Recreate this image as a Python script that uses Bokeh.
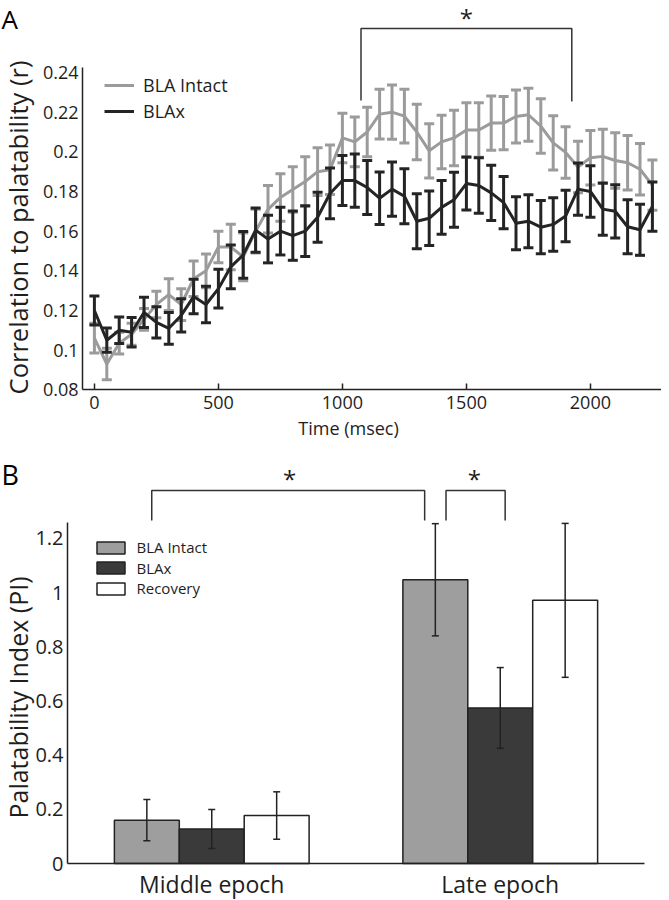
from math import pi
from bokeh.plotting import figure
from bokeh.layouts import column
from bokeh.models import (FixedTicker, Legend, LegendItem, Label, ColumnDataSource, Range1d,
                          LinearAxis)
from bokeh.embed import file_html
from bokeh.resources import INLINE

# ---------------- data: panel A ----------------
time_ms = [0, 50, 100, 150, 200, 250, 300, 350, 400, 450, 500, 550, 600, 650, 700, 750,
           800, 850, 900, 950, 1000, 1050, 1100, 1150, 1200, 1250, 1300, 1350, 1400, 1450,
           1500, 1550, 1600, 1650, 1700, 1750, 1800, 1850, 1900, 1950, 2000, 2050, 2100,
           2150, 2200, 2250]
intact_r = [0.106, 0.093, 0.1035, 0.108, 0.1155, 0.123, 0.128, 0.123, 0.136, 0.140,
            0.152, 0.152, 0.147, 0.160, 0.171, 0.177, 0.181, 0.185, 0.190, 0.191,
            0.207, 0.205, 0.210, 0.219, 0.220, 0.218, 0.210, 0.2005, 0.205, 0.207,
            0.211, 0.211, 0.2145, 0.2145, 0.2178, 0.2187, 0.213, 0.2045, 0.1997, 0.1923,
            0.197, 0.1977, 0.1956, 0.1945, 0.1912, 0.1832]
intact_sem = [0.0075, 0.008, 0.0055, 0.0055, 0.0055, 0.0067, 0.008, 0.008, 0.009, 0.0085,
              0.008, 0.0115, 0.012, 0.011, 0.012, 0.012, 0.0115, 0.0125, 0.012, 0.0125,
              0.0125, 0.0125, 0.0125, 0.0125, 0.0137, 0.0135, 0.014, 0.0137, 0.0135, 0.014,
              0.0137, 0.0137, 0.0137, 0.0134, 0.0134, 0.0134, 0.0137, 0.0137, 0.013, 0.013,
              0.0137, 0.0137, 0.014, 0.0137, 0.013, 0.0127]
blax_r = [0.120, 0.105, 0.110, 0.109, 0.119, 0.114, 0.111, 0.1175, 0.127, 0.123,
          0.131, 0.142, 0.148, 0.1605, 0.156, 0.160, 0.1577, 0.160, 0.167, 0.179,
          0.1855, 0.1855, 0.182, 0.1766, 0.1812, 0.1776, 0.165, 0.1665, 0.172, 0.1758,
          0.184, 0.183, 0.1793, 0.1744, 0.164, 0.165, 0.162, 0.1634, 0.1676, 0.1812,
          0.180, 0.1711, 0.170, 0.1622, 0.1607, 0.1724]
blax_sem = [0.0073, 0.0061, 0.0067, 0.0074, 0.0076, 0.0079, 0.008, 0.0084, 0.0087, 0.0092,
            0.0098, 0.011, 0.0118, 0.0112, 0.012, 0.012, 0.0124, 0.0128, 0.0126, 0.0128,
            0.0126, 0.0134, 0.0136, 0.0132, 0.0137, 0.0139, 0.0139, 0.0137, 0.0136, 0.0139,
            0.0134, 0.014, 0.0139, 0.0132, 0.0134, 0.0134, 0.0134, 0.0135, 0.013, 0.0132,
            0.013, 0.0132, 0.0134, 0.0136, 0.0129, 0.0124]
a_xticks = [0, 500, 1000, 1500, 2000]
a_yticks = [0.08, 0.1, 0.12, 0.14, 0.16, 0.18, 0.2, 0.22, 0.24]
a_ylabels = ["0.08", "0.1", "0.12", "0.14", "0.16", "0.18", "0.2", "0.22", "0.24"]
a_sig_span = (1075, 1925)   # ms, significance bracket

# ---------------- data: panel B ----------------
epochs = ["Middle epoch", "Late epoch"]
groups = ["BLA Intact", "BLAx", "Recovery"]
pi_intact = [0.160, 1.047]
pi_intact_err = [0.076, 0.207]
pi_blax = [0.127, 0.574]
pi_blax_err = [0.072, 0.149]
pi_recovery = [0.177, 0.971]
pi_recovery_err = [0.0875, 0.284]
b_yticks = [0, 0.2, 0.4, 0.6, 0.8, 1.0, 1.2]
b_ylabels = ["0", "0.2", "0.4", "0.6", "0.8", "1", "1.2"]

FONT = "Open Sans"
TXT = "#1e1e1e"
GRAY = "#9b9b9b"
DARK = "#242424"
AXC = "#222222"
BAR_COLORS = ["#9e9e9e", "#3a3a3a", "#ffffff"]
W = 661


def style_axis(ax, size):
    ax.axis_line_color = AXC
    ax.axis_line_width = 1.5
    ax.minor_tick_line_color = None
    ax.major_tick_in = 0
    ax.major_label_text_font = FONT
    ax.major_label_text_font_size = size
    ax.major_label_text_color = TXT


# ================= Panel A =================
H1 = 440
A_PXMS = 0.248          # pixels per ms
A_PXY = 1983.0          # pixels per unit r
def a_x(px): return -48 + (px - 82) / A_PXMS
def a_y(py): return 0.24 + (72 - py) / A_PXY

p1 = figure(width=W, height=H1, x_range=Range1d(a_x(0), a_x(W)),
            y_range=Range1d(a_y(H1), a_y(0)),
            x_axis_location=None, y_axis_location=None,
            output_backend="svg", toolbar_location=None, min_border=0)
p1.outline_line_color = None
p1.grid.visible = False

rends = []
for ys, es, col in [(intact_r, intact_sem, GRAY), (blax_r, blax_sem, DARK)]:
    src = ColumnDataSource(dict(x=time_ms, y=ys,
                                lo=[a - b for a, b in zip(ys, es)],
                                hi=[a + b for a, b in zip(ys, es)]))
    p1.segment(x0="x", y0="lo", x1="x", y1="hi", source=src, line_color=col, line_width=3)
    p1.scatter(x="x", y="lo", source=src, marker="dash", size=10, line_color=col, line_width=3)
    p1.scatter(x="x", y="hi", source=src, marker="dash", size=10, line_color=col, line_width=3)
    rends.append(p1.line(x="x", y="y", source=src, line_color=col, line_width=3))

legA = Legend(items=[LegendItem(label="BLA Intact", renderers=[rends[0]]),
                     LegendItem(label="BLAx", renderers=[rends[1]])],
              location=(104, H1 - 123), padding=0, margin=0, spacing=2,
              glyph_width=30, glyph_height=20, label_standoff=9,
              label_text_font=FONT, label_text_font_size="18px", label_text_color=TXT,
              border_line_alpha=0, background_fill_alpha=0)
p1.add_layout(legA)

xa = LinearAxis(fixed_location=0.08, ticker=FixedTicker(ticks=a_xticks), bounds=(-48, a_x(W)))
style_axis(xa, "18px")
xa.major_tick_in = 6
xa.major_tick_out = 0
xa.major_tick_line_color = AXC
xa.major_tick_line_width = 1.5
xa.major_label_standoff = 6
p1.add_layout(xa, "below")

ya = LinearAxis(fixed_location=-48, ticker=FixedTicker(ticks=a_yticks), bounds=(0.08, a_y(67)))
style_axis(ya, "18px")
ya.major_label_overrides = dict(zip(a_yticks, a_ylabels))
ya.major_tick_out = 0
ya.major_tick_line_color = None
ya.major_label_standoff = 4
p1.add_layout(ya, "left")

# significance bracket
p1.line(x=[a_sig_span[0], a_sig_span[0], a_sig_span[1], a_sig_span[1]],
        y=[a_y(100), a_y(28), a_y(28), a_y(101)], line_color="#333333", line_width=1.5)
p1.add_layout(Label(x=sum(a_sig_span) / 2, y=a_y(17), text="*", text_align="center",
                    text_baseline="middle", text_font=FONT, text_font_size="24px",
                    text_color=TXT))
p1.add_layout(Label(x=a_x(1), y=a_y(18), text="A", text_align="left",
                    text_baseline="middle", text_font=FONT, text_font_size="26px",
                    text_color="#000000"))
p1.add_layout(Label(x=a_x(17), y=a_y(227), text="Correlation to palatability (r)",
                    angle=pi / 2, text_align="center", text_baseline="middle",
                    text_font=FONT, text_font_size="25.5px", text_color=TXT))
p1.add_layout(Label(x=a_x(348), y=a_y(427), text="Time (msec)", text_align="center",
                    text_baseline="middle", text_font=FONT, text_font_size="18px",
                    text_color=TXT))

# ================= Panel B =================
H2 = 460
TOP2 = H1               # picture y where panel B starts
B_PXX = 288.5
B_PXY = 271.0
def b_x(px): return 0.5 + (px - 67) / B_PXX
def b_y(py): return (863 - py) / B_PXY

centers = [1, 2]
offsets = [-0.225, 0.0, 0.225]
bw = 0.225

p2 = figure(width=W, height=H2, x_range=Range1d(b_x(0), b_x(W)),
            y_range=Range1d(b_y(TOP2 + H2), b_y(TOP2)),
            x_axis_location=None, y_axis_location=None,
            output_backend="svg", toolbar_location=None, min_border=0)
p2.outline_line_color = None
p2.grid.visible = False

bar_renderers = []
for vals, errs, off, col in [(pi_intact, pi_intact_err, offsets[0], BAR_COLORS[0]),
                             (pi_blax, pi_blax_err, offsets[1], BAR_COLORS[1]),
                             (pi_recovery, pi_recovery_err, offsets[2], BAR_COLORS[2])]:
    src = ColumnDataSource(dict(x=[c + off for c in centers], top=vals,
                                lo=[v - e for v, e in zip(vals, errs)],
                                hi=[v + e for v, e in zip(vals, errs)]))
    bar_renderers.append(p2.vbar(x="x", top="top", bottom=0, width=bw, source=src,
                                 fill_color=col, line_color=AXC, line_width=1.5))
    p2.segment(x0="x", y0="lo", x1="x", y1="hi", source=src, line_color=AXC, line_width=1.5)
    p2.scatter(x="x", y="lo", source=src, marker="dash", size=7, line_color=AXC, line_width=1.5)
    p2.scatter(x="x", y="hi", source=src, marker="dash", size=7, line_color=AXC, line_width=1.5)

# one legend per row so the rows can sit as close as in the original
ROW_H = 20.4
for g, r, row_center in zip(groups, bar_renderers, [547.2, 567.6, 588.0]):
    p2.add_layout(Legend(items=[LegendItem(label=g, renderers=[r])],
                         location=(92.5, TOP2 + H2 - row_center - ROW_H / 2),
                         padding=0, margin=0, spacing=0,
                         glyph_width=35, glyph_height=15, label_standoff=9,
                         label_text_font=FONT, label_text_font_size="15px",
                         label_text_color=TXT,
                         border_line_alpha=0, background_fill_alpha=0))

# significance brackets
for (bx0, bx1), sx in [((0.792, 1.738), 1.27), ((1.812, 2.017), 1.91)]:
    p2.line(x=[bx0, bx0, bx1, bx1], y=[b_y(520), b_y(490), b_y(490), b_y(520)],
            line_color="#333333", line_width=1.5)
    p2.add_layout(Label(x=sx, y=b_y(478), text="*", text_align="center",
                        text_baseline="middle", text_font=FONT, text_font_size="24px",
                        text_color=TXT))

p2.add_layout(Label(x=b_x(1), y=b_y(474), text="B", text_align="left",
                    text_baseline="middle", text_font=FONT, text_font_size="27px",
                    text_color="#000000"))
p2.add_layout(Label(x=b_x(17), y=b_y(697), text="Palatability Index (PI)",
                    angle=pi / 2, text_align="center", text_baseline="middle",
                    text_font=FONT, text_font_size="25px", text_color=TXT))

xb = LinearAxis(fixed_location=0, ticker=FixedTicker(ticks=centers), bounds=(0.5, 2.5))
style_axis(xb, "23px")
xb.major_label_overrides = dict(zip(centers, epochs))
xb.major_tick_out = 0
xb.major_tick_line_color = None
xb.major_label_standoff = 4
p2.add_layout(xb, "below")

yb = LinearAxis(fixed_location=0.5, ticker=FixedTicker(ticks=b_yticks), bounds=(0, b_y(522)))
style_axis(yb, "20px")
yb.major_label_overrides = dict(zip(b_yticks, b_ylabels))
yb.major_tick_out = 0
yb.major_tick_line_color = None
yb.major_label_standoff = 4
p2.add_layout(yb, "left")

layout = column(p1, p2)
open("out.html", "w").write(file_html(layout, INLINE))
